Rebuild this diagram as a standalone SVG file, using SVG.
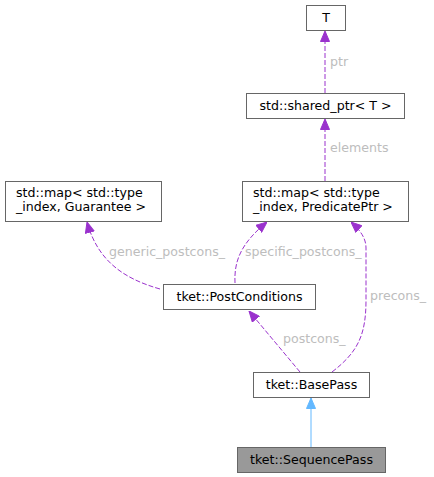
<svg xmlns="http://www.w3.org/2000/svg" width="434" height="477" viewBox="0 0 434 477">
<style>
.box{fill:#fff;stroke:#666;stroke-width:1}
.cur{fill:#999;stroke:#666;stroke-width:1}
.t{font-family:"DejaVu Sans",sans-serif;font-size:12.6px;fill:#000}
.lbl{font-family:"DejaVu Sans",sans-serif;font-size:12.6px;fill:#bdbdbd}
.e{fill:none;stroke:#9a32cd;stroke-width:1;stroke-dasharray:5,2}
.inh{fill:none;stroke:#63b8ff;stroke-width:1}
</style>
<defs>
<marker id="ap" viewBox="0 0 11 10" refX="11" refY="5" markerWidth="11" markerHeight="10" markerUnits="userSpaceOnUse" orient="auto"><path d="M0.5,0.5 L11,5 L0.5,9.5 z" fill="#9a32cd" stroke="#9a32cd"/></marker>
<marker id="ab" viewBox="0 0 11 10" refX="11" refY="5" markerWidth="11" markerHeight="10" markerUnits="userSpaceOnUse" orient="auto"><path d="M0.5,0.5 L11,5 L0.5,9.5 z" fill="#63b8ff" stroke="#63b8ff"/></marker>
</defs>
<rect width="434" height="477" fill="#fff"/>
<g id="connectors">
<path class="e" d="M325,93 L325,31" marker-end="url(#ap)"/>
<text class="lbl" x="330" y="66">ptr</text>
<path class="e" d="M325,181 L325,119" marker-end="url(#ap)"/>
<text class="lbl" x="330" y="152">elements</text>
<path class="e" d="M160,289 C125,279 98,262 87,222" marker-end="url(#ap)"/>
<text class="lbl" x="109" y="256">generic_postcons_</text>
<path class="e" d="M235,283 C234,262 240,244 267,222" marker-end="url(#ap)"/>
<text class="lbl" x="245" y="256">specific_postcons_</text>
<path class="e" d="M332,372 C358,352 366,335 366,300 L366,248 C366,238 360,230 351,222" marker-end="url(#ap)"/>
<text class="lbl" x="370" y="300">precons_</text>
<path class="e" d="M300,372 L249,311" marker-end="url(#ap)"/>
<text class="lbl" x="283" y="343">postcons_</text>
<path class="inh" d="M311,447 L311,398" marker-end="url(#ab)"/>
</g>
<g id="T"><rect class="box" x="306.5" y="5.5" width="39" height="25"/><text class="t" x="326" y="22" text-anchor="middle">T</text></g>
<g id="shared_ptr"><rect class="box" x="246.5" y="93.5" width="158" height="25"/><text class="t" x="325.5" y="110" text-anchor="middle">std::shared_ptr&lt; T &gt;</text></g>
<g id="map_guarantee"><rect class="box" x="5.5" y="181.5" width="156" height="40"/><text class="t" x="16" y="197">std::map&lt; std::type</text><text class="t" x="16" y="211">_index, Guarantee &gt;</text></g>
<g id="map_predicate"><rect class="box" x="242.5" y="181.5" width="166" height="40"/><text class="t" x="253" y="197">std::map&lt; std::type</text><text class="t" x="253" y="211">_index, PredicatePtr &gt;</text></g>
<g id="PostConditions"><rect class="box" x="163.5" y="284.5" width="152" height="25"/><text class="t" x="239.5" y="301" text-anchor="middle">tket::PostConditions</text></g>
<g id="BasePass"><rect class="box" x="253.5" y="372.5" width="116" height="25"/><text class="t" x="311.5" y="389" text-anchor="middle">tket::BasePass</text></g>
<g id="SequencePass"><rect class="cur" x="237.5" y="447.5" width="148" height="25"/><text class="t" x="311.5" y="464" text-anchor="middle">tket::SequencePass</text></g>
</svg>
